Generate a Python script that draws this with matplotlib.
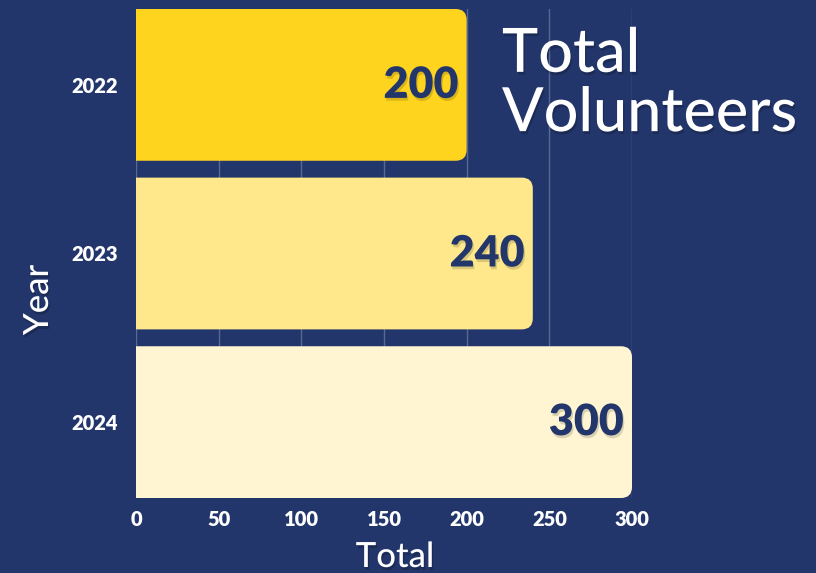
import matplotlib
matplotlib.use("Agg")
import matplotlib.pyplot as plt
from matplotlib.patches import FancyBboxPatch
import matplotlib.patheffects as pe

years = ["2022", "2023", "2024"]
totals = [200, 240, 300]
bar_colors = ["#FFD41E", "#FFE88C", "#FFF5D2"]
x_ticks = [0, 50, 100, 150, 200, 250, 300]

BG = "#22366B"
NAVY = "#22366B"
FONT = "Lato"

fig = plt.figure(figsize=(8.16, 5.73), dpi=100, facecolor=BG)
ax = fig.add_axes([136/816, 1-498/573, (632-136)/816, (498-9)/573])
ax.set_facecolor(BG)

ypos = list(range(len(years)))
ax.set_xlim(0, 300)
ax.set_ylim(2.45, -0.45)

fig.canvas.draw()
p0 = ax.transData.transform((0, 0))
p1 = ax.transData.transform((1, 1))
px_per_x = abs(p1[0] - p0[0])
px_per_y = abs(p1[1] - p0[1])
radius_px = 11
rx = radius_px / px_per_x
ry = radius_px / px_per_y

val_shadow = [pe.withSimplePatchShadow(offset=(1, -2), shadow_rgbFace="black", alpha=0.15)]
h = 0.9
for i, (v, c) in enumerate(zip(totals, bar_colors)):
    patch = FancyBboxPatch((-20, i - h/2), v + 20, h,
                           boxstyle=f"round,pad=0,rounding_size={rx}",
                           mutation_aspect=ry/rx,
                           facecolor=c, edgecolor="none", zorder=3,
                           clip_on=True)
    ax.add_patch(patch)
    ax.text(v - 5, i, str(v), ha="right", va="center", color=NAVY,
            fontsize=31, fontweight="heavy", family=FONT, zorder=4,
            path_effects=val_shadow)

ax.set_yticks(ypos)
ax.set_yticklabels(years)
ax.set_xticks(x_ticks)
ax.tick_params(axis="both", length=0, colors="white", labelsize=14.5)
ax.tick_params(axis="y", pad=13)
ax.tick_params(axis="x", pad=9)
for lab in ax.get_xticklabels() + ax.get_yticklabels():
    lab.set_fontweight("heavy")
    lab.set_family(FONT)

ax.grid(axis="x", color="white", alpha=0.25, linewidth=1, zorder=0)
ax.set_axisbelow(True)
for s in ax.spines.values():
    s.set_visible(False)

shadow = [pe.withSimplePatchShadow(offset=(1, -2), shadow_rgbFace="black", alpha=0.2)]
fig.text(395/816, 1-557/573, "Total", color="white", fontsize=25, fontweight="medium",
         family=FONT, ha="center", va="center", path_effects=shadow)
fig.text(38/816, 1-300/573, "Year", color="white", fontsize=25, fontweight="medium",
         family=FONT, ha="center", va="center", rotation=90, path_effects=shadow)

fig.text(502/816, 1-84/573, "Total\nVolunteers", color="white", fontsize=44,
         fontweight="medium", family=FONT, ha="left", va="center", linespacing=1.05,
         path_effects=shadow)

fig.savefig("out.png", dpi=100, facecolor=BG)
